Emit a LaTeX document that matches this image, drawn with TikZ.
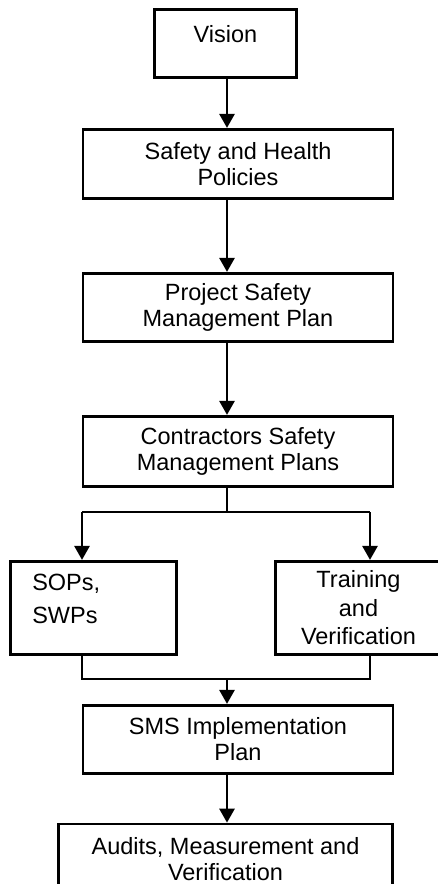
\documentclass[tikz,border=0pt]{standalone}
\usepackage{fontspec}
\setmainfont{Liberation Sans}
\usetikzlibrary{arrows.meta,positioning,calc}

\begin{document}
\begin{tikzpicture}[x=1pt, y=-1pt, line width=2.7pt,
  box/.style={draw, rectangle, align=center, inner sep=0pt, font=\fontsize{23.5}{26}\selectfont},
  flow/.style={-{Triangle[width=15pt,length=14pt]}}]

\useasboundingbox (0,0) rectangle (438,884);

% Main chain of boxes
\node[box, minimum width=142.5, minimum height=68.5, text height=16pt, text depth=19pt] (vision) at (225.5,43.5) {Vision};
\node[box, minimum width=310, minimum height=69.5] (policy) at (238,164) {Safety and Health\\Policies};
\node[box, minimum width=310, minimum height=68.5] (project) at (238,307.5) {Project Safety\\Management Plan};
\node[box, minimum width=310, minimum height=70.5] (contractors) at (238,451.5) {Contractors Safety\\Management Plans};

% Branch boxes
\node[box, align=left, inner xsep=22pt, text width=122.5pt, minimum height=93.5,
      text height=16pt, text depth=52pt] (sops) at (93.5,608) {SOPs,\\[7pt]SWPs};
\node[box, minimum width=166.5, minimum height=93.5] (training) at (358.5,608) {Training\\[2.5pt]and\\[2.5pt]Verification};

% Lower boxes
\node[box, minimum width=310, minimum height=68.5] (sms) at (238,739.5) {SMS Implementation\\Plan};
\node[box, minimum width=334.5, minimum height=70] (audits) at (225.5,859) {Audits, Measurement and\\Verification};

% Joints of the connectors
\coordinate (spine) at (227,0);
\coordinate (splitL) at (82,512);
\coordinate (splitR) at (370,512);
\coordinate (joinL) at (82,679);
\coordinate (joinR) at (370,679);

% Straight arrows
\foreach \from/\to in {vision/policy, policy/project, project/contractors, sms/audits}
    \draw[flow] (\from.south -| spine) -- (\to.north -| spine);

% Split into the two branches
\draw (contractors.south -| spine) -- (splitL -| spine);
\draw (splitL) -- (splitR);
\draw[flow] (splitL) -- (splitL |- sops.north);
\draw[flow] (splitR) -- (splitR |- training.north);

% Join back into the plan
\draw (sops.south -| joinL) -- (joinL) -- (joinR) -- (training.south -| joinR);
\draw[flow] (joinL -| spine) -- (sms.north -| spine);

\end{tikzpicture}
\end{document}
